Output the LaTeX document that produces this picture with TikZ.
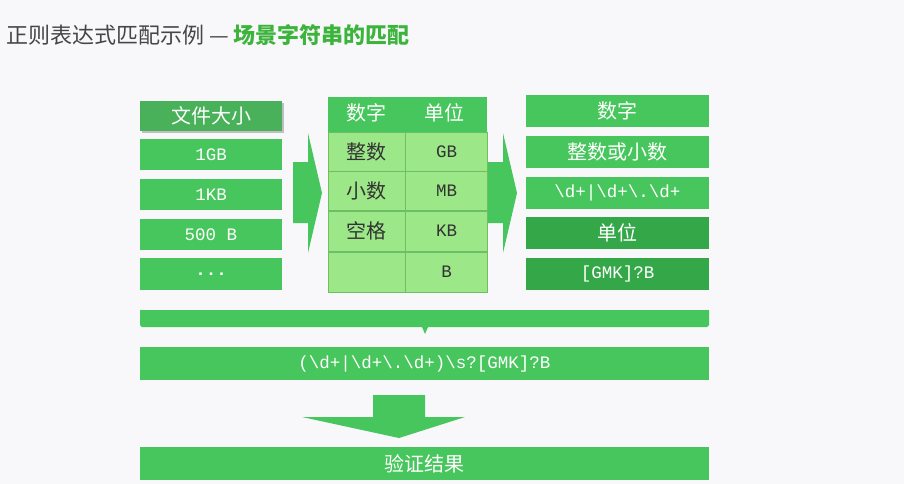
\documentclass[tikz,border=0pt]{standalone}
\usepackage{fontspec}
\setmainfont{Liberation Serif}
\setmonofont{Liberation Mono}
\newfontfamily\cjk{Noto Sans CJK SC}
\usetikzlibrary{positioning,calc}
\definecolor{rxgreen}{RGB}{70,198,92}
\definecolor{rxdark}{RGB}{52,168,72}
\definecolor{rxlight}{RGB}{156,232,136}
\definecolor{rxline}{RGB}{110,190,100}
\definecolor{rxbg}{RGB}{248,248,250}
\definecolor{rxtitle}{RGB}{70,70,70}
\definecolor{rxtgreen}{RGB}{60,180,60}
\tikzset{
  cell/.style={fill=rxgreen, text=white, inner sep=0pt, font=\cjk\fontsize{20}{22}\selectfont},
  tcell/.style={fill=rxlight, draw=rxline, line width=0.6pt, inner sep=0pt, text=black!80, font=\cjk\fontsize{20}{22}\selectfont},
  latin/.style={font=\ttfamily\fontsize{17.5}{19}\selectfont},
  bigarrow/.style={fill=rxgreen, draw=none}
}
\begin{document}
\begin{tikzpicture}[x=1pt,y=-1pt]
    \fill[rxbg] (0,0) rectangle (904,484);
    \useasboundingbox (0,0) rectangle (904,484);
    % Title
    \node[anchor=west, inner sep=0pt, text=rxtitle, font=\cjk\fontsize{22}{25}\selectfont] (title) at (6,35)
        {正则表达式匹配示例 —\ \textcolor{rxtgreen}{\bfseries 场景字符串的匹配}};

    % Left column
    \fill[black!25] (142,103) rectangle (284,133);
    \node[cell, fill=rxdark!90, minimum width=142pt, minimum height=30pt] (size) at (211,116) {文件大小};
    \node[cell, latin, minimum width=142pt, minimum height=31pt] (gb) at (211,154.5) {1GB};
    \node[cell, latin, minimum width=142pt, minimum height=31pt] (kb) at (211,194.5) {1KB};
    \node[cell, latin, minimum width=142pt, minimum height=31pt] (b500) at (211,234.5) {500 B};
    \node[cell, latin, minimum width=142pt, minimum height=32pt] (more) at (211,274) {\textbf{...}};

    % Middle table
    \node[cell, minimum width=159pt, minimum height=35pt] (thead) at (407.5,114.5) {};
    \node[text=white, font=\cjk\fontsize{20}{22}\selectfont] at (366,113) {数字};
    \node[text=white, font=\cjk\fontsize{20}{22}\selectfont] at (444,113) {单位};
    \node[tcell, minimum width=77pt, minimum height=39pt] (int) at (366.5,151.5) {整数};
    \node[tcell, latin, minimum width=82pt, minimum height=39pt, right=0pt of int] (ugb) {GB};
    \node[tcell, minimum width=77pt, minimum height=39pt, below=0pt of int] (dec) {小数};
    \node[tcell, latin, minimum width=82pt, minimum height=39pt, right=0pt of dec] (umb) {MB};
    \node[tcell, minimum width=77pt, minimum height=40pt, below=0pt of dec] (space) {空格};
    \node[tcell, latin, minimum width=82pt, minimum height=40pt, right=0pt of space] (ukb) {KB};
    \node[tcell, minimum width=77pt, minimum height=40pt, below=0pt of space] (blank) {};
    \node[tcell, latin, minimum width=82pt, minimum height=40pt, right=0pt of blank] (ub) {B};

    % Right arrows
    \fill[bigarrow] (293,162) -- (308,162) -- (308,133) -- (322,193) -- (308,253) -- (308,223) -- (293,223) -- cycle;
    \fill[bigarrow] (488,162) -- (503,162) -- (503,133) -- (517,193) -- (503,253) -- (503,223) -- (488,223) -- cycle;

    % Right column
    \node[cell, minimum width=183pt, minimum height=32pt] (num) at (617.5,111) {数字};
    \node[cell, minimum width=183pt, minimum height=32pt] (intdec) at (617.5,152) {整数或小数};
    \node[cell, latin, minimum width=183pt, minimum height=32pt] (rnum) at (617.5,193) {\textbackslash d+|\textbackslash d+\textbackslash .\textbackslash d+};
    \node[cell, fill=rxdark, minimum width=183pt, minimum height=32pt] (unit) at (617.5,233) {单位};
    \node[cell, fill=rxdark, latin, minimum width=183pt, minimum height=32pt] (runit) at (617.5,274) {[GMK]?B};

    % Brace bar
    \fill[rxgreen] (140,310) -- (709,310) -- (709,325) -- (707,327) -- (428,327) -- (425,334) -- (422,327) -- (142,327) -- (140,325) -- cycle;

    % Regex and result
    \node[cell, latin, minimum width=569pt, minimum height=33pt] (regex) at (424.5,363.5)
        {(\textbackslash d+|\textbackslash d+\textbackslash .\textbackslash d+)\textbackslash s?[GMK]?B};
    \fill[bigarrow] (373,395) -- (425,395) -- (425,417) -- (465,417) -- (399,438) -- (302,417) -- (373,417) -- cycle;
    \node[cell, minimum width=569pt, minimum height=33pt] (result) at (424.5,463.5) {验证结果};
\end{tikzpicture}
\end{document}
